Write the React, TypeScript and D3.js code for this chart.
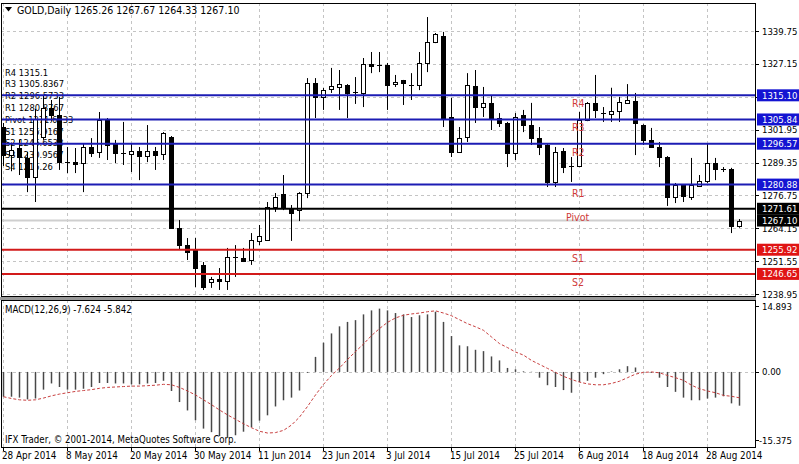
import * as d3 from 'd3';

// date labels every 8 bars
const dateLabels = ['28 Apr 2014', '8 May 2014', '20 May 2014', '30 May 2014', '11 Jun 2014', '23 Jun 2014',
  '3 Jul 2014', '15 Jul 2014', '25 Jul 2014', '6 Aug 2014', '18 Aug 2014', '28 Aug 2014'];

const opens = [1302.9, 1292.0, 1294.9, 1291.1, 1283.8, 1299.1, 1310.2, 1307.6, 1289.7, 1289.5,
  1289.15, 1295.3, 1293.4, 1306.0, 1296.8, 1293.0, 1292.6, 1293.75, 1291.8, 1293.75,
  1292.6, 1299.1, 1264.3, 1257.7, 1255.8, 1250.1, 1243.5, 1244.7, 1243.9, 1253.1,
  1252.7, 1251.97, 1259.3, 1259.6, 1272.3, 1277.3, 1271.5, 1271.1, 1277.65, 1319.8,
  1314.5, 1317.5, 1318.0, 1319.1, 1316.4, 1316.0, 1327.1, 1326.7, 1326.7, 1319.4,
  1321.0, 1319.1, 1319.1, 1327.5, 1335.5, 1337.8, 1306.8, 1293.4, 1299.1, 1318.7,
  1310.6, 1312.2, 1306.4, 1304.5, 1293.0, 1307.6, 1303.7, 1298.7, 1296.05, 1281.9,
  1293.75, 1288.0, 1288.0, 1305.6, 1312.2, 1308.3, 1307.9, 1309.1, 1312.2, 1312.9,
  1303.7, 1298.0, 1295.3, 1291.45, 1276.1, 1280.7, 1276.1, 1280.3, 1282.2, 1289.15,
  1286.9, 1286.9, 1265.26];

const highs = [1304.5, 1297.0, 1298.0, 1293.4, 1309.9, 1315.2, 1313.3, 1314.5, 1295.3, 1294.9,
  1296.8, 1298.7, 1308.7, 1306.4, 1298.0, 1304.9, 1296.8, 1295.3, 1303.7, 1295.3,
  1301.0, 1299.5, 1267.3, 1260.4, 1260.4, 1251.2, 1245.5, 1248.9, 1256.6, 1257.7,
  1256.6, 1262.3, 1265.4, 1274.2, 1277.65, 1284.55, 1273.05, 1278.0, 1321.7, 1321.7,
  1317.9, 1325.6, 1324.8, 1319.4, 1322.1, 1329.4, 1331.7, 1331.7, 1327.5, 1322.9,
  1321.0, 1323.6, 1331.7, 1345.1, 1338.98, 1339.4, 1314.1, 1302.95, 1323.6, 1324.8,
  1318.3, 1315.2, 1308.3, 1304.9, 1308.3, 1309.5, 1312.2, 1302.95, 1296.4, 1295.3,
  1294.9, 1291.45, 1308.7, 1312.5, 1322.9, 1310.6, 1318.0, 1314.5, 1319.4, 1316.0,
  1304.0, 1302.6, 1297.2, 1291.8, 1281.5, 1281.0, 1291.1, 1284.55, 1296.8, 1291.1,
  1287.6, 1287.3, 1267.67];

const lows = [1288.0, 1286.0, 1284.55, 1278.0, 1274.2, 1298.0, 1305.0, 1286.5, 1285.3, 1285.3,
  1278.0, 1291.45, 1291.1, 1290.3, 1289.15, 1288.4, 1285.7, 1282.6, 1289.5, 1286.5,
  1290.3, 1264.0, 1255.8, 1251.97, 1241.6, 1240.5, 1241.3, 1240.5, 1240.5, 1245.5,
  1251.2, 1250.1, 1257.7, 1259.4, 1270.4, 1271.1, 1259.3, 1266.9, 1275.7, 1306.4,
  1309.5, 1316.0, 1309.5, 1306.4, 1311.8, 1310.6, 1323.6, 1324.0, 1309.5, 1318.3,
  1311.4, 1313.3, 1317.1, 1324.0, 1335.1, 1302.95, 1291.45, 1293.0, 1297.2, 1304.5,
  1306.8, 1301.8, 1302.95, 1287.6, 1290.3, 1301.0, 1296.05, 1292.2, 1279.96, 1279.96,
  1285.3, 1281.9, 1287.6, 1305.2, 1306.4, 1304.9, 1304.9, 1304.9, 1312.0, 1292.2,
  1296.05, 1294.9, 1287.6, 1272.7, 1273.8, 1274.2, 1275.0, 1279.96, 1281.5, 1282.6,
  1285.7, 1262.3, 1264.33];

const closes = [1292.2, 1294.0, 1291.45, 1283.8, 1306.0, 1310.2, 1307.6, 1289.5, 1289.3, 1288.8,
  1295.3, 1293.0, 1305.6, 1296.05, 1293.0, 1293.0, 1293.75, 1291.8, 1293.75, 1292.2,
  1300.7, 1264.3, 1257.7, 1255.0, 1248.9, 1241.6, 1244.7, 1243.9, 1253.1, 1252.9,
  1251.6, 1259.6, 1261.2, 1272.3, 1276.1, 1271.9, 1270.0, 1277.65, 1319.8, 1314.5,
  1317.1, 1318.7, 1319.3, 1316.0, 1316.2, 1327.1, 1326.3, 1326.6, 1319.1, 1320.2,
  1319.8, 1319.0, 1327.5, 1335.5, 1338.6, 1306.4, 1293.4, 1298.7, 1319.1, 1310.6,
  1312.2, 1306.4, 1304.5, 1293.0, 1306.8, 1303.7, 1298.7, 1295.3, 1281.9, 1293.4,
  1287.6, 1288.0, 1305.6, 1312.2, 1309.5, 1308.1, 1309.1, 1312.5, 1313.3, 1304.5,
  1298.0, 1295.3, 1291.45, 1276.1, 1280.7, 1276.5, 1280.7, 1282.2, 1289.15, 1286.9,
  1286.8, 1265.2, 1267.10];

const macdMain = [-5.6, -5.6, -5.8, -6.2, -6.0, -4.0, -2.6, -3.4, -4.0, -4.0,
  -3.8, -3.4, -2.5, -2.5, -2.6, -2.6, -2.8, -2.8, -2.6, -2.5,
  -2.0, -4.3, -6.8, -8.7, -10.9, -12.8, -13.6, -14.5, -14.7, -14.3,
  -13.5, -12.5, -11.0, -9.8, -7.8, -6.4, -5.8, -4.2, -0.2, 3.4,
  6.6, 8.7, 10.3, 11.3, 11.7, 13.0, 13.9, 14.3, 13.9, 13.3,
  13.0, 12.4, 12.8, 13.0, 13.6, 11.3, 8.1, 6.0, 5.8, 5.0,
  4.7, 3.5, 2.6, 0.9, 0.6, 0.15, 0.05, -1.3, -3.0, -3.4,
  -4.1, -4.7, -2.3, -2.0, -1.3, -0.5, 0.1, 0.6, 1.3, 1.0,
  0.05, -0.2, -1.3, -3.4, -4.5, -5.8, -6.4, -6.4, -6.0, -5.8,
  -5.5, -7.1, -7.624];

const macdSignal = [-5.6, -6.0, -6.3, -6.4, -6.3, -5.9, -5.4, -5.0, -4.7, -4.4,
  -4.2, -4.0, -3.7, -3.5, -3.4, -3.3, -3.2, -3.2, -3.1, -3.0,
  -2.8, -2.9, -3.5, -4.3, -5.2, -6.3, -7.4, -8.6, -9.7, -10.7,
  -11.7, -12.6, -13.4, -13.8, -13.7, -13.2, -12.0, -10.2, -7.8, -5.2,
  -2.8, -0.8, 0.9, 2.8, 4.6, 6.3, 8.2, 9.8, 11.2, 12.2,
  12.8, 13.1, 13.3, 13.6, 13.8, 13.3, 12.7, 11.8, 10.9, 10.2,
  9.4, 7.9, 6.4, 5.5, 4.5, 3.8, 2.6, 1.7, 0.8, -0.1,
  -1.0, -1.7, -2.3, -2.7, -2.9, -2.9, -2.6, -2.1, -1.3, -0.5,
  -0.1, 0.0, -0.2, -0.8, -1.3, -1.9, -3.0, -3.8, -4.3, -4.7,
  -5.3, -5.5, -5.842];

const priceTicks = [1238.95, 1251.55, 1264.15, 1276.75, 1289.35, 1301.95, 1314.55, 1327.15, 1339.75];
const macdTicks = [14.893, 0.0, -15.375];

const pivotNames = ['R4', 'R3', 'R2', 'R1', 'Pivot', 'S1', 'S2'];
const pivotValues = [1315.10, 1305.84, 1296.57, 1280.88, 1271.61, 1255.92, 1246.65];
const pivotColors = ['#1c1cb4', '#1c1cb4', '#1c1cb4', '#1c1cb4', '#000000', '#d21a1a', '#d21a1a'];
const pivotBoxColors = ['#1414d2', '#1414d2', '#1414d2', '#1414d2', '#000000', '#e01414', '#e01414'];
const pivotTexts = ['R4 1315.1', 'R3 1305.8367', 'R2 1296.5733', 'R1 1280.8767', 'Pivot 1271.6133',
  'S1 1255.9167', 'S2 1246.6533', 'S3 1230.9567', 'S4 1215.26'];

const bidPrice = 1267.10;

const FONT = "'Liberation Sans Narrow', 'DejaVu Sans Condensed', 'Liberation Sans', Arial, sans-serif";

const App = () => {
  const width = 799;
  const height = 464;
  const plotLeft = 1;
  const plotRight = 755;
  const mainTop = 3;
  const mainBottom = 296;
  const macdTop = 300;
  const macdBottom = 447;

  const n = closes.length;
  const x = d3.scaleLinear().domain([0, n - 1]).range([3, 3 + 8 * (n - 1)]);
  const y = d3.scaleLinear().domain([1238.95, 1339.75]).range([294, 31]);
  const ym = d3.scaleLinear().domain([-15.375, 14.893]).range([440, 306]);

  const signalLine = d3.line<number>()
    .x((_, i) => x(i) + 0.5)
    .y(d => ym(d));

  const px = (v: number) => Math.round(v) + 0.5;
  const gridIdx = dateLabels.map((_, k) => k * 8);

  return (
    <svg width={width} height={height} style={{ position: 'fixed', left: 0, top: 0, background: '#fff' }}
      fontFamily={FONT}>
      <rect x={0} y={0} width={width} height={height} fill="#fff" />

      {/* grid: main panel */}
      {priceTicks.map(t => (
        <line key={'hg' + t} x1={plotLeft} x2={plotRight} y1={px(y(t))} y2={px(y(t))}
          stroke="#c4c4c4" strokeDasharray="3,3" />
      ))}
      {gridIdx.map(i => (
        <g key={'vg' + i}>
          <line x1={px(x(i))} x2={px(x(i))} y1={mainTop} y2={mainBottom} stroke="#c4c4c4" strokeDasharray="3,3" />
          <line x1={px(x(i))} x2={px(x(i))} y1={macdTop} y2={macdBottom} stroke="#c4c4c4" strokeDasharray="3,3" />
        </g>
      ))}
      <line x1={plotLeft} x2={plotRight} y1={px(ym(0))} y2={px(ym(0))} stroke="#c4c4c4" strokeDasharray="3,3" />

      {/* bid line */}
      <line x1={plotLeft} x2={plotRight} y1={y(bidPrice)} y2={y(bidPrice)} stroke="#cfcfcf" strokeWidth={2} />

      {/* pivot indicator text block */}
      {pivotTexts.map((t, k) => (
        <text key={t} x={5} y={72 + k * 11.8} fontSize={9.3} dominantBaseline="central" fill="#000">{t}</text>
      ))}

      {/* candles */}
      {closes.map((c, i) => {
        const o = opens[i];
        const cx = px(x(i));
        const top = Math.min(y(o), y(c));
        const bot = Math.max(y(o), y(c));
        const bull = c >= o;
        const flat = bot - top < 1.2;
        return (
          <g key={'c' + i}>
            <line x1={cx} x2={cx} y1={y(highs[i])} y2={y(lows[i])} stroke="#000" />
            {flat ? (
              <line x1={cx - 2.5} x2={cx + 2.5} y1={px(top)} y2={px(top)} stroke="#000" />
            ) : (
              <rect x={cx - 2} y={Math.round(top) + 0.5} width={4} height={Math.max(1, Math.round(bot - top))}
                fill={bull ? '#fff' : '#000'} stroke="#000" />
            )}
          </g>
        );
      })}

      {/* pivot lines */}
      {pivotValues.map((v, k) => (
        <g key={'pl' + k}>
          <line x1={plotLeft} x2={plotRight} y1={y(v)} y2={y(v)} stroke={pivotColors[k]} strokeWidth={2} />
          <text x={k === 4 ? 566 : 572} y={y(v) + 8} fontSize={10.5} fill="#d03a3a" dominantBaseline="central">
            {pivotNames[k]}
          </text>
        </g>
      ))}

      {/* macd histogram */}
      {macdMain.map((v, i) => (
        <line key={'m' + i} x1={x(i) + 0.5} x2={x(i) + 0.5} y1={ym(0)} y2={ym(v)} stroke="#484848" strokeWidth={1.5} />
      ))}
      <path d={signalLine(macdSignal) || ''} fill="none" stroke="#c84040" strokeDasharray="3,2" strokeWidth={1} />

      {/* frames */}
      <rect x={plotLeft + 0.5} y={mainTop + 0.5} width={plotRight - plotLeft} height={mainBottom - mainTop}
        fill="none" stroke="#000" />
      <rect x={plotLeft + 0.5} y={macdTop + 0.5} width={plotRight - plotLeft} height={macdBottom - macdTop}
        fill="none" stroke="#000" />
      <rect x={0} y={mainBottom + 1} width={plotRight + 1} height={3} fill="#9a9a9a" />

      {/* title */}
      <path d="M5,7 L12,7 L8.5,11.5 Z" fill="#000" />
      <text x={17} y={10} fontSize={10.5} dominantBaseline="central" fill="#000">
        GOLD,Daily  1265.26 1267.67 1264.33 1267.10
      </text>

      {/* price axis */}
      {priceTicks.map(t => (
        <g key={'pt' + t}>
          <line x1={plotRight} x2={plotRight + 4} y1={px(y(t))} y2={px(y(t))} stroke="#000" />
          <text x={762} y={y(t)} fontSize={9.5} dominantBaseline="central" fill="#000">{t.toFixed(2)}</text>
        </g>
      ))}
      {/* level boxes */}
      {pivotValues.concat([bidPrice]).map((v, k) => (
        <g key={'pb' + k}>
          <rect x={plotRight + 2} y={y(v) - 6} width={42} height={12}
            fill={k < pivotValues.length ? pivotBoxColors[k] : '#000'} />
          <text x={762} y={y(v)} fontSize={9.5} dominantBaseline="central" fill="#fff">{v.toFixed(2)}</text>
        </g>
      ))}

      {/* macd axis */}
      {macdTicks.map(t => (
        <g key={'mt' + t}>
          <line x1={plotRight} x2={plotRight + 4} y1={px(ym(t))} y2={px(ym(t))} stroke="#000" />
          <text x={t < 0 ? 759 : 762} y={ym(t)} fontSize={9.5} dominantBaseline="central" fill="#000">
            {t === 0 ? '0.00' : t.toString()}
          </text>
        </g>
      ))}

      <text x={5} y={309} fontSize={9.6} dominantBaseline="central" fill="#000">MACD(12,26,9) -7.624 -5.842</text>
      <text x={5} y={439} fontSize={9.6} dominantBaseline="central" fill="#000">
        IFX Trader, © 2001-2014, MetaQuotes Software Corp.
      </text>

      {/* time axis */}
      {dateLabels.map((d, k) => (
        <g key={d}>
          <line x1={px(x(k * 8))} x2={px(x(k * 8))} y1={macdBottom} y2={macdBottom + 4} stroke="#000" />
          <text x={x(k * 8) - 1} y={455} fontSize={9.8} dominantBaseline="central" fill="#000">{d}</text>
        </g>
      ))}
    </svg>
  );
};

export default App;
